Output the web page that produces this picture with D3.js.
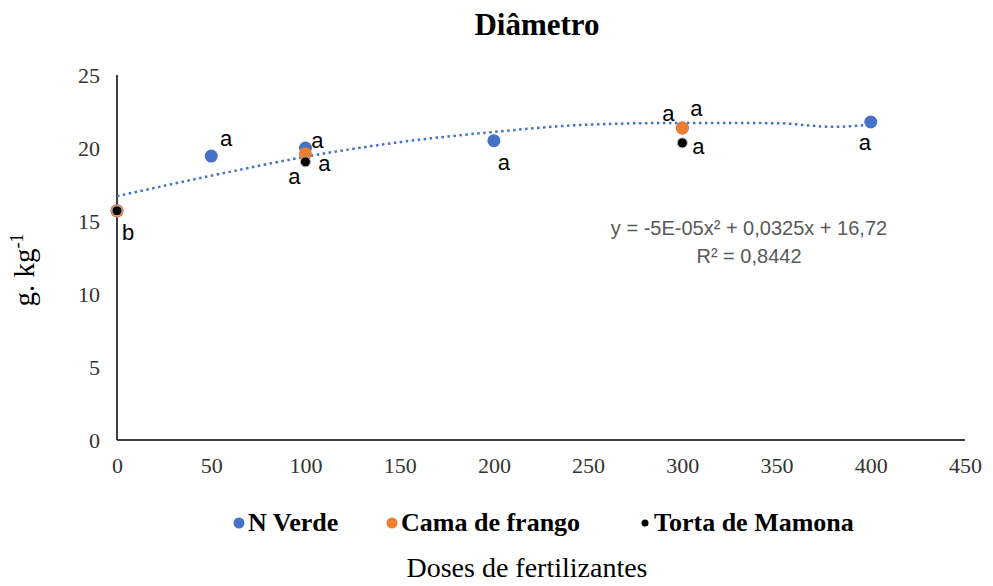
<!DOCTYPE html>
<html>
<head>
<meta charset="utf-8">
<script src="https://cdn.jsdelivr.net/npm/d3@7"></script>
<style>
  body { margin: 0; background: #fff; }
  svg { display: block; }
</style>
</head>
<body>
<div id="chart"></div>
<script>
// data
const seriesNames = ['N Verde', 'Cama de frango', 'Torta de Mamona'];
const seriesColors = ['#4472C4', '#ED7D31', '#000000'];
const nVerde = [[0, 15.7], [50, 19.45], [100, 20.0], [200, 20.5], [300, 21.37], [400, 21.78]];
const camaFrango = [[0, 15.7], [100, 19.6], [300, 21.37]];
const tortaMamona = [[0, 15.7], [100, 19.05], [300, 20.35]];
const trendPoints = [[0, 16.7], [50, 18.1], [100, 19.4], [150, 20.4], [200, 21.1], [250, 21.6],
  [300, 21.72], [350, 21.7], [380, 21.45], [400, 21.6]];
const xTicks = [0, 50, 100, 150, 200, 250, 300, 350, 400, 450];
const yTicks = [0, 5, 10, 15, 20, 25];
// significance letters: [x, y, letter]
const letters = [[0, 15.7, 'b'], [50, 19.45, 'a'], [100, 20.0, 'a'], [100, 19.6, 'a'], [100, 19.05, 'a'],
  [200, 20.5, 'a'], [300, 21.37, 'a'], [300, 21.37, 'a'], [300, 20.35, 'a'], [400, 21.78, 'a']];
const letterOffsets = [[11, 22], [15, -18], [12, -8], [19, 10], [-11, 15], [10, 22], [-14, -14], [14, -19], [16, 4], [-6, 20]];
const equation = 'y = -5E-05x² + 0,0325x + 16,72';
const rSquared = 'R² = 0,8442';

const width = 993, height = 586;
const margin = { top: 75, right: 28, bottom: 146, left: 117 };

const svg = d3.select('#chart').append('svg')
  .attr('width', width).attr('height', height);

const x = d3.scaleLinear().domain([0, 450]).range([margin.left, width - margin.right]);
const y = d3.scaleLinear().domain([0, 25]).range([height - margin.bottom, margin.top]);

// title
svg.append('text')
  .attr('x', 537).attr('y', 35)
  .attr('text-anchor', 'middle')
  .style('font-family', '"Liberation Serif", serif')
  .style('font-weight', 'bold').style('font-size', '31px')
  .text('Diâmetro');

// axes
const xAxis = svg.append('g')
  .attr('transform', 'translate(0,' + y(0) + ')')
  .call(d3.axisBottom(x).tickValues(xTicks).tickSize(0).tickPadding(17));
const yAxis = svg.append('g')
  .attr('transform', 'translate(' + x(0) + ',0)')
  .call(d3.axisLeft(y).tickValues(yTicks).tickSize(0).tickPadding(17));
[xAxis, yAxis].forEach(g => {
  g.select('.domain').attr('stroke', '#000').attr('stroke-width', 1.5);
  g.selectAll('text')
    .style('font-family', '"Liberation Serif", serif')
    .style('font-size', '22px').attr('fill', '#333');
});
xAxis.select('.domain').attr('d', 'M' + x(0) + ',0H' + x(450));
yAxis.select('.domain').attr('d', 'M0,' + y(0) + 'V' + y(25));

// y label
svg.append('text')
  .attr('transform', 'translate(34,270) rotate(-90)')
  .attr('text-anchor', 'middle')
  .style('font-family', '"Liberation Serif", serif')
  .style('font-size', '29px')
  .html('g. kg<tspan dy="-11" font-size="18px">-1</tspan>');

// trendline
const line = d3.line().curve(d3.curveMonotoneX)
  .x(d => x(d[0])).y(d => y(d[1]));
svg.append('path')
  .datum(trendPoints)
  .attr('d', line)
  .attr('fill', 'none')
  .attr('stroke', '#4472C4')
  .attr('stroke-width', 2.5)
  .attr('stroke-dasharray', '2.5,3.5');

// points
const allSeries = [nVerde, camaFrango, tortaMamona];
allSeries.forEach((data, i) => {
  svg.append('g').selectAll('circle')
    .data(data).enter()
    .append('circle')
    .attr('cx', d => x(d[0]))
    .attr('cy', d => y(d[1]))
    .attr('r', i === 2 ? 5 : 6.5)
    .attr('fill', seriesColors[i])
    .attr('stroke', i === 2 ? '#bbb' : 'none')
    .attr('stroke-width', 1);
});

// letters
svg.append('g').selectAll('text')
  .data(letters).enter()
  .append('text')
  .attr('x', (d, i) => x(d[0]) + letterOffsets[i][0])
  .attr('y', (d, i) => y(d[1]) + letterOffsets[i][1])
  .attr('text-anchor', 'middle')
  .attr('dominant-baseline', 'central')
  .style('font-family', '"Liberation Sans", Arial, sans-serif')
  .style('font-size', '22px')
  .attr('fill', '#000')
  .text(d => d[2]);

// equation
const eq = svg.append('g')
  .style('font-family', '"Liberation Sans", Arial, sans-serif')
  .style('font-size', '20px').attr('fill', '#595959');
eq.append('text').attr('x', 749).attr('y', 235).attr('text-anchor', 'middle').text(equation);
eq.append('text').attr('x', 749).attr('y', 263).attr('text-anchor', 'middle').text(rSquared);

// legend
const legendX = [239, 392, 645];
const legend = svg.append('g');
seriesNames.forEach((name, i) => {
  legend.append('circle')
    .attr('cx', legendX[i]).attr('cy', 523)
    .attr('r', i === 2 ? 3.5 : 5.5)
    .attr('fill', seriesColors[i]);
  legend.append('text')
    .attr('x', legendX[i] + 9).attr('y', 531)
    .style('font-family', '"Liberation Serif", serif')
    .style('font-weight', 'bold').style('font-size', '26px')
    .text(name);
});

// x label
svg.append('text')
  .attr('x', 527).attr('y', 577)
  .attr('text-anchor', 'middle')
  .style('font-family', '"Liberation Serif", serif')
  .style('font-size', '28px')
  .text('Doses de fertilizantes');
</script>
</body>
</html>
